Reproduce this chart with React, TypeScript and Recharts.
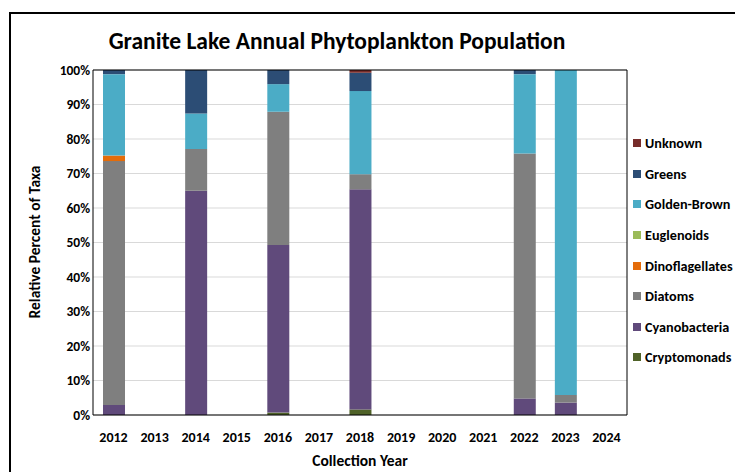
import React from 'react';
import { BarChart, Bar, XAxis, YAxis, CartesianGrid } from 'recharts';

const years = ['2012', '2013', '2014', '2015', '2016', '2017', '2018', '2019', '2020', '2021', '2022', '2023', '2024'];

// percent of taxa per year, bottom of stack first
const cryptomonads = [0, 0, 0, 0, 0.7, 0, 1.6, 0, 0, 0, 0, 0, 0];
const cyanobacteria = [2.9, 0, 65.0, 0, 48.6, 0, 63.8, 0, 0, 0, 4.8, 3.6, 0];
const diatoms = [70.7, 0, 12.1, 0, 38.6, 0, 4.4, 0, 0, 0, 71.0, 2.2, 0];
const dinoflagellates = [1.6, 0, 0, 0, 0, 0, 0, 0, 0, 0, 0, 0, 0];
const euglenoids = [0, 0, 0, 0, 0, 0, 0, 0, 0, 0, 0, 0, 0];
const goldenBrown = [23.6, 0, 10.3, 0, 8.0, 0, 24.1, 0, 0, 0, 23.0, 94.2, 0];
const greens = [1.2, 0, 12.6, 0, 4.1, 0, 5.3, 0, 0, 0, 1.2, 0, 0];
const unknown = [0, 0, 0, 0, 0, 0, 0.8, 0, 0, 0, 0, 0, 0];

const yTicks = [0, 10, 20, 30, 40, 50, 60, 70, 80, 90, 100];

const series = [
  { key: 'cryptomonads', name: 'Cryptomonads', color: '#4F6228', values: cryptomonads },
  { key: 'cyanobacteria', name: 'Cyanobacteria', color: '#604A7B', values: cyanobacteria },
  { key: 'diatoms', name: 'Diatoms', color: '#7F7F7F', values: diatoms },
  { key: 'dinoflagellates', name: 'Dinoflagellates', color: '#E46C0A', values: dinoflagellates },
  { key: 'euglenoids', name: 'Euglenoids', color: '#9BBB59', values: euglenoids },
  { key: 'goldenBrown', name: 'Golden-Brown', color: '#4BACC6', values: goldenBrown },
  { key: 'greens', name: 'Greens', color: '#2C4D75', values: greens },
  { key: 'unknown', name: 'Unknown', color: '#772C2A', values: unknown },
];

const data = years.map((year, i) => {
  const row: Record<string, string | number> = { year };
  series.forEach((s) => {
    row[s.key] = s.values[i];
  });
  return row;
});

const font = "Carlito, 'Liberation Sans', Arial, sans-serif";
const xTickStyle = { fill: '#000', fontSize: 14, fontWeight: 700, fontFamily: font };
const yTickStyle = { fill: '#000', fontSize: 13.5, fontWeight: 700, fontFamily: font };

export default function App() {
  return (
    <div style={{ position: 'absolute', left: 0, top: 0, width: 735, height: 472, overflow: 'hidden', background: '#fff', fontFamily: font }}>
      <div style={{ position: 'absolute', left: 9, top: 12, width: 800, height: 500, border: '2px solid #000' }} />
      <div style={{ position: 'absolute', left: 0, top: 27, width: 674, textAlign: 'center', fontSize: 23.5, fontWeight: 700, lineHeight: '28px', color: '#000' }}>
        Granite Lake Annual Phytoplankton Population
      </div>
      <div style={{ position: 'absolute', left: 0, top: 0 }}>
        <BarChart width={735} height={472} data={data} margin={{ top: 69, right: 107, bottom: 27, left: 33 }} barSize={22}>
          <CartesianGrid vertical={false} stroke="#D9D9D9" />
          <XAxis dataKey="year" height={30} interval={0} tickLine={false} tickMargin={11} axisLine={{ stroke: '#000' }} tick={xTickStyle} />
          <XAxis xAxisId="top" dataKey="year" orientation="top" height={1} tick={false} tickLine={false} axisLine={{ stroke: '#000' }} />
          <YAxis domain={[0, 100]} ticks={yTicks} tickFormatter={(v) => `${v}%`} width={60} tickLine={false} tickSize={3} tickMargin={0} axisLine={{ stroke: '#000' }} tick={yTickStyle} allowDataOverflow />
          <YAxis yAxisId="right" orientation="right" width={1} domain={[0, 100]} tick={false} tickLine={false} axisLine={{ stroke: '#000' }} />
          {series.map((s) => (
            <Bar key={s.key} dataKey={s.key} name={s.name} stackId="taxa" fill={s.color} isAnimationActive={false} />
          ))}
        </BarChart>
      </div>
      <div style={{ position: 'absolute', left: 0, top: 451, width: 720, textAlign: 'center', fontSize: 15.5, fontWeight: 700, lineHeight: '20px', color: '#000' }}>
        Collection Year
      </div>
      <div style={{ position: 'absolute', left: 34, top: 242, transform: 'translate(-50%, -50%) rotate(-90deg)', whiteSpace: 'nowrap', fontSize: 15.5, fontWeight: 700, color: '#000' }}>
        Relative Percent of Taxa
      </div>
      <div style={{ position: 'absolute', left: 633, top: 128 }}>
        {[...series].reverse().map((s) => (
          <div key={s.key} style={{ display: 'flex', alignItems: 'center', height: 30.6, fontSize: 14.2, fontWeight: 700, color: '#000', whiteSpace: 'nowrap' }}>
            <span style={{ display: 'inline-block', width: 8, height: 8, background: s.color, marginRight: 4 }} />
            {s.name}
          </div>
        ))}
      </div>
    </div>
  );
}
